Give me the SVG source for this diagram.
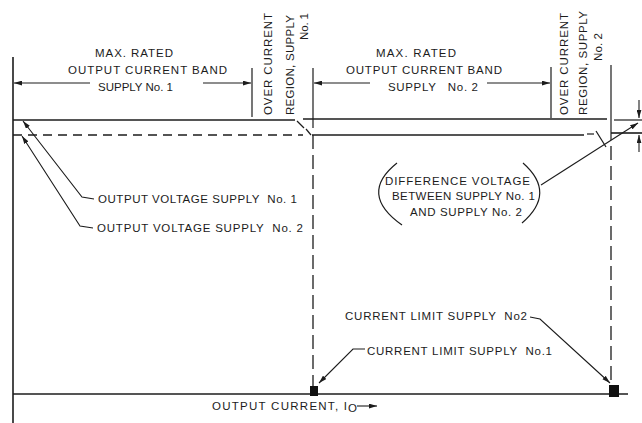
<svg xmlns="http://www.w3.org/2000/svg" width="642" height="423" viewBox="0 0 642 423">
<style>
.t{font-family:"Liberation Sans",Arial,Helvetica,sans-serif;font-size:11.5px;fill:#1c1c1c}
.ln{stroke:#1c1c1c;stroke-width:1.2;fill:none}
.bold{stroke:#1c1c1c;stroke-width:1.6;fill:none}
.hd{stroke:#1c1c1c;stroke-width:1.6;fill:none;stroke-dasharray:9 6}
.vd{stroke:#1c1c1c;stroke-width:1.3;fill:none;stroke-dasharray:14 6}
.ld{stroke:#1c1c1c;stroke-width:1.1;fill:none;marker-end:url(#ah)}
</style>
<defs>
<marker id="ah" viewBox="0 0 10 6" refX="10" refY="3" markerWidth="8" markerHeight="5" markerUnits="userSpaceOnUse" orient="auto"><path d="M0,0 L10,3 L0,6 z" fill="#1c1c1c"/></marker>
</defs>
<rect width="642" height="423" fill="#fff"/>

<g id="axes">
<line class="bold" x1="13" y1="57" x2="13" y2="423"/>
<line class="bold" x1="13" y1="394" x2="628" y2="394"/>
</g>

<g id="connectors">
<line class="ln" x1="252" y1="68" x2="252" y2="117"/>
<line class="ln" x1="313" y1="68" x2="313" y2="128"/>
<line class="vd" x1="313" y1="135" x2="313" y2="394"/>
<line class="ln" x1="551" y1="67" x2="551" y2="118"/>
<line class="ln" x1="611" y1="65" x2="611" y2="140"/>
<line class="vd" x1="611" y1="146" x2="611" y2="394"/>
<line class="ld" x1="90" y1="83" x2="14" y2="83"/>
<line class="ld" x1="203" y1="83" x2="251" y2="83"/>
<line class="ld" x1="370" y1="83" x2="314" y2="83"/>
<line class="ld" x1="487" y1="83" x2="550" y2="83"/>
<line class="bold" x1="13" y1="120" x2="295" y2="120"/>
<line class="ln" x1="297" y1="121" x2="304" y2="128"/>
<line class="bold" x1="303" y1="119" x2="607" y2="119"/>
<line class="ln" x1="614" y1="120" x2="642" y2="120"/>
<line class="hd" x1="13" y1="135" x2="303" y2="135"/>
<line class="ln" x1="306" y1="129" x2="311" y2="135"/>
<line class="bold" x1="312" y1="135" x2="584" y2="135"/>
<line class="ln" x1="587" y1="134" x2="594" y2="134"/>
<line class="ln" x1="596" y1="131" x2="606" y2="147"/>
<line class="bold" x1="611" y1="133" x2="642" y2="133"/>
<line class="ld" x1="639" y1="100" x2="639" y2="118"/>
<line class="ld" x1="639" y1="152" x2="639" y2="135"/>
<polyline class="ld" points="94,199 82,197 23,121"/>
<polyline class="ld" points="93,228 80,226 22,136"/>
<line class="ld" x1="541" y1="185" x2="638" y2="123"/>
<polyline class="ld" points="530,317 540,319 610,383"/>
<polyline class="ld" points="365,349 353,349 319,383"/>
<line class="ld" x1="357" y1="406" x2="377" y2="406"/>
<path class="ln" d="M397,163 Q358,194 402,225"/>
<path class="ln" d="M523,163 Q557,193 522,223"/>
</g>

<g id="limit-points">
<rect x="310" y="386" width="8" height="10" fill="#111"/>
<rect x="609" y="385" width="10" height="12" fill="#111"/>
</g>

<g id="band1">
<text class="t" x="95" y="57" textLength="78" lengthAdjust="spacing">MAX. RATED</text>
<text class="t" x="68" y="74" textLength="159" lengthAdjust="spacing">OUTPUT CURRENT BAND</text>
<text class="t" x="98" y="91" textLength="75" lengthAdjust="spacing">SUPPLY No. 1</text>
</g>
<g id="over1">
<text class="t" transform="translate(272,115) rotate(-90)" textLength="102" lengthAdjust="spacing">OVER CURRENT</text>
<text class="t" transform="translate(294,115) rotate(-90)" textLength="100" lengthAdjust="spacing">REGION, SUPPLY</text>
<text class="t" transform="translate(308,40) rotate(-90)" textLength="27" lengthAdjust="spacing">No. 1</text>
</g>
<g id="band2">
<text class="t" x="376" y="57" textLength="80" lengthAdjust="spacing">MAX. RATED</text>
<text class="t" x="346" y="74" textLength="156" lengthAdjust="spacing">OUTPUT CURRENT BAND</text>
<text class="t" x="388" y="91" textLength="90" lengthAdjust="spacing" xml:space="preserve">SUPPLY   No. 2</text>
</g>
<g id="over2">
<text class="t" transform="translate(568,115) rotate(-90)" textLength="102" lengthAdjust="spacing">OVER CURRENT</text>
<text class="t" transform="translate(587,115) rotate(-90)" textLength="104" lengthAdjust="spacing">REGION, SUPPLY</text>
<text class="t" transform="translate(602,61) rotate(-90)" textLength="28" lengthAdjust="spacing">No. 2</text>
</g>
<g id="vout1">
<text class="t" x="98" y="203" textLength="199" lengthAdjust="spacing" xml:space="preserve">OUTPUT VOLTAGE SUPPLY  No. 1</text>
</g>
<g id="vout2">
<text class="t" x="97" y="232" textLength="206" lengthAdjust="spacing" xml:space="preserve">OUTPUT VOLTAGE SUPPLY  No. 2</text>
</g>
<g id="diff">
<text class="t" x="385" y="185" textLength="145" lengthAdjust="spacing">DIFFERENCE VOLTAGE</text>
<text class="t" x="392" y="200" textLength="143" lengthAdjust="spacing">BETWEEN SUPPLY No. 1</text>
<text class="t" x="410" y="216" textLength="112" lengthAdjust="spacing">AND SUPPLY No. 2</text>
</g>
<g id="climit2">
<text class="t" x="345" y="320" textLength="182" lengthAdjust="spacing" xml:space="preserve">CURRENT LIMIT SUPPLY  No2</text>
</g>
<g id="climit1">
<text class="t" x="367" y="355" textLength="185" lengthAdjust="spacing" xml:space="preserve">CURRENT LIMIT SUPPLY  No.1</text>
</g>
<g id="xlabel">
<text class="t" x="212" y="410" textLength="135" lengthAdjust="spacing">OUTPUT CURRENT, I</text>
<text class="t" x="348" y="412" font-size="8">O</text>
</g>
</svg>
